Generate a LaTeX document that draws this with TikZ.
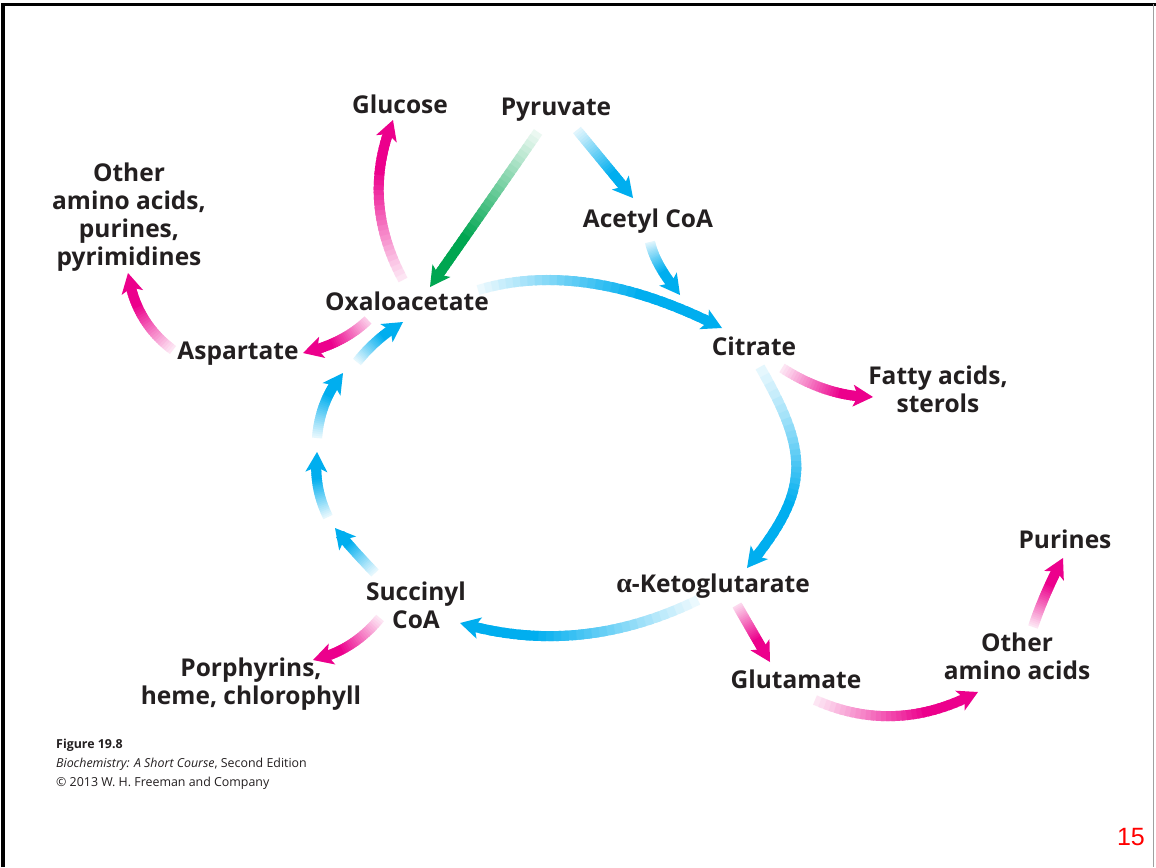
\documentclass[tikz,border=0pt]{standalone}
\usepackage{fontspec}
\setmainfont{Open Sans}
\newfontfamily\numfont{Liberation Sans}
\newfontfamily\greekfont{Liberation Serif}
\usetikzlibrary{calc}
\definecolor{cyanA}{RGB}{0,174,239}
\definecolor{magA}{RGB}{236,0,140}
\definecolor{grnA}{RGB}{0,166,81}
\definecolor{txtA}{RGB}{35,31,32}
\definecolor{frameg}{RGB}{160,160,160}
\tikzset{
  lbl/.style={font=\bfseries\fontsize{24.5}{27.7}\selectfont, align=center, anchor=base, inner sep=0pt, text=txtA},
  captxt/.style={font=\fontsize{12.4}{15}\selectfont, anchor=base west, inner sep=0pt, text=txtA},
}
% cubic gradient arrow: start, c1, c2, end, colour, start percentage
\newcommand\garrow[6]{%
  \path (#1); \pgfgetlastxy{\gax}{\gay}%
  \path (#4); \pgfgetlastxy{\gbx}{\gby}%
  \pgfmathsetmacro\gch{veclen(\gbx-\gax,\gby-\gay)}%
  \pgfmathsetmacro\gte{1-10/\gch}%
  \pgfmathsetmacro\gtd{1-20/\gch}%
  \foreach \gi in {0,...,29}{%
    \pgfmathsetmacro\gta{\gte*\gi/30}%
    \pgfmathsetmacro\gtb{min(\gte,\gte*(\gi+1.7)/30)}%
    \pgfmathtruncatemacro\gpc{min(100,#6+(100-#6)*\gi/21)}%
    \path (#1) .. controls (#2) and (#3) .. (#4) coordinate[pos=\gta] (gA) coordinate[pos=\gtb] (gB);%
    \draw[line width=10pt, draw=#5!\gpc!white] (gA) -- (gB);%
  }%
  \path (#1) .. controls (#2) and (#3) .. (#4) coordinate[pos=\gtd] (gD);%
  \fill[#5] (#4) -- ($(#4)!20pt!(gD)!11pt!90:(#4)$) -- ($(#4)!15pt!(gD)$) -- ($(#4)!20pt!(gD)!11pt!-90:(#4)$) -- cycle;%
}
% quadratic form: start, control, end, colour, start percentage
\newcommand\qarrow[5]{%
  \coordinate (qC1) at ($(#1)!0.6667!(#2)$);%
  \coordinate (qC2) at ($(#3)!0.6667!(#2)$);%
  \garrow{#1}{qC1}{qC2}{#3}{#4}{#5}%
}
\begin{document}
\begin{tikzpicture}[x=1pt,y=-1pt]
\useasboundingbox (0,0) rectangle (1156,867);
\fill[white] (0,0) rectangle (1156,867);
% frame
\draw[line width=3.5pt] (3,867) -- (3,4.5) -- (1156,4.5);
\draw[frameg, line width=1pt] (1153.5,4.5) -- (1153.5,867);

% labels (multi-line nodes: base = last line)
\node[lbl] (glucose) at (400,113) {Glucose};
\node[lbl] (pyruvate) at (556,115) {Pyruvate};
\node[lbl] (otheraa) at (129,265) {Other\\amino acids,\\purines,\\pyrimidines};
\node[lbl] (acetyl) at (648,227) {Acetyl CoA};
\node[lbl] (oxalo) at (407,310) {Oxaloacetate};
\node[lbl] (aspartate) at (238,359) {Aspartate};
\node[lbl] (citrate) at (754,355) {Citrate};
\node[lbl] (fatty) at (938,412) {Fatty acids,\\sterols};
\node[lbl] (akg) at (713,592) {{\greekfont\fontsize{28}{28}\selectfont α}-Ketoglutarate};
\node[lbl] (succ) at (416,628) {Succinyl\\CoA};
\node[lbl] (porph) at (251,704) {Porphyrins,\\heme, chlorophyll};
\node[lbl] (glut) at (796,688) {Glutamate};
\node[lbl] (otheraa2) at (1017,679) {Other\\amino acids};
\node[lbl] (purines) at (1065,548) {Purines};

% caption
\node[captxt] (fig) at (56,748) {\bfseries Figure 19.8};
\node[captxt] (book) at (56,767) {\itshape Biochemistry: A Short Course\upshape, Second Edition};
\node[captxt] (copy) at (56,786) {© 2013 W. H. Freeman and Company};
\node[anchor=base east, inner sep=0pt, text=red, font=\numfont\fontsize{25}{25}\selectfont] (page) at (1145,845) {15};

% blue arrows
\qarrow{577,130}{605,164}{633,198}{cyanA}{12}
\qarrow{650,242}{655,265}{680,295}{cyanA}{12}
\qarrow{478,290}{585,258}{722,328}{cyanA}{8}
\garrow{760,367}{810,454}{811,491}{747,568}{cyanA}{10}
\qarrow{698,600}{579,658}{460,623}{cyanA}{8}
\qarrow{375,573}{349,546}{335,528}{cyanA}{10}
\qarrow{328,517}{313,487}{317,452}{cyanA}{10}
\qarrow{317,438}{320,400}{343,373}{cyanA}{10}
\qarrow{357,362}{376,338}{403,322}{cyanA}{10}
% green arrow
\qarrow{538,132}{484,210}{430,287}{grnA}{8}
% magenta arrows
\qarrow{403,280}{360,200}{393,120}{magA}{10}
\qarrow{368,320}{343,344}{303,353}{magA}{20}
\qarrow{173,350}{135,322}{128,273}{magA}{10}
\qarrow{782,368}{827,397}{873,397}{magA}{10}
\qarrow{737,605}{753,633}{770,662}{magA}{15}
\qarrow{815,700}{896,736}{978,692}{magA}{10}
\qarrow{1033,627}{1044,594}{1063,558}{magA}{10}
\qarrow{380,618}{353,651}{313,660}{magA}{10}
\end{tikzpicture}
\end{document}
